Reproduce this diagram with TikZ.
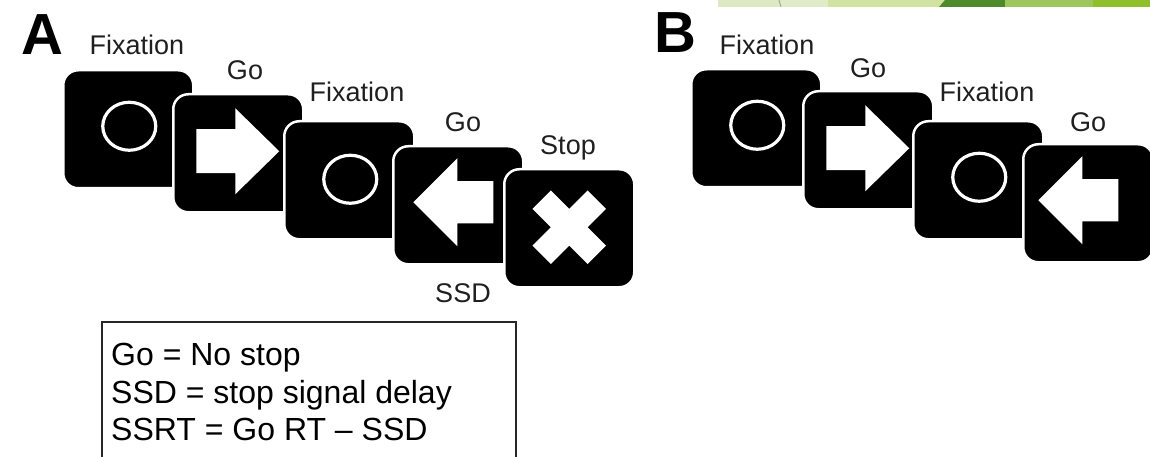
\documentclass[tikz,border=0pt]{standalone}
\usepackage{fontspec}
\setmainfont{Liberation Sans}
\begin{document}
\begin{tikzpicture}[x=1pt, y=-1pt,
  card/.style={rectangle, rounded corners=15pt, fill=black, draw=white,
    line width=2.5pt, minimum width=130pt, minimum height=118pt,
    inner sep=0pt, anchor=north west},
  lbl/.style={anchor=base, inner sep=0pt, text=black!88,
    font=\fontsize{27}{32}\selectfont},
  panel/.style={anchor=base west, inner sep=0pt,
    font=\fontsize{58}{64}\selectfont\bfseries},
  legendtext/.style={anchor=base west, inner sep=0pt,
    font=\fontsize{32}{38}\selectfont},
  ring/.style={draw=white, line width=3.2pt},
  glyph/.style={fill=white, draw=none},
  rarrow/.pic={\path[glyph] (-42,-22) -- (-3,-22) -- (-3,-43) -- (41,0)
      -- (-3,43) -- (-3,22) -- (-42,22) -- cycle;},
  larrow/.pic={\path[glyph] (-45,0) -- (-1,-44) -- (-1,-21) -- (35,-21)
      -- (35,21) -- (-1,21) -- (-1,44) -- cycle;},
  cross/.pic={\path[glyph, rotate=45] (-39,-13) rectangle (39,13);
      \path[glyph, rotate=-45] (-39,-13) rectangle (39,13);}
]
\useasboundingbox (0,0) rectangle (1150,457);

% decorative band along the top edge
\fill[fill={rgb,255:red,220;green,233;blue,194}] (718,0) rectangle (780,7);
\fill[fill={rgb,255:red,224;green,236;blue,200}] (780,0) rectangle (828,7);
\draw[draw={rgb,255:red,150;green,165;blue,135}, line width=0.8pt] (779,0) -- (781,7);
\fill[fill={rgb,255:red,209;green,227;blue,161}] (828,0) rectangle (946,7);
\fill[fill={rgb,255:red,79;green,138;blue,42}] (945,0) -- (1005,0) -- (1005,7) -- (939,7) -- cycle;
\fill[fill={rgb,255:red,157;green,199;blue,94}] (1005,0) rectangle (1093,7);
\fill[fill={rgb,255:red,143;green,192;blue,44}] (1093,0) rectangle (1150,7);

% ---------------- panel A ----------------
\node[panel] (A) at (21,55) {A};

\node[card] (a1) at (62,69) {};
\node[card] (a2) at (172,93) {};
\node[card] (a3) at (283,120) {};
\node[card] (a4) at (392,145) {};
\node[card] (a5) at (503,168) {};

\draw[ring] ([shift={(1,-3)}]a1.center) ellipse [x radius=26.5, y radius=24];
\pic at ([shift={(0,-2)}]a2.center) {rarrow};
\draw[ring] ([shift={(1,-1)}]a3.center) ellipse [x radius=26.5, y radius=24];
\pic at ([shift={(0,-3)}]a4.center) {larrow};
\pic at ([shift={(0,-1)}]a5.center) {cross};

\node[lbl] (fa1) at (137,55) {Fixation};
\node[lbl] (ga2) at (245,80) {Go};
\node[lbl] (fa3) at (357,102) {Fixation};
\node[lbl] (ga4) at (463,132) {Go};
\node[lbl] (sa5) at (568,155) {Stop};
\node[lbl] (ssd) at (463,302) {SSD};

% legend
\node[draw=black!85, line width=1.8pt, rectangle, anchor=north west,
  minimum width=414pt, minimum height=170pt, inner sep=0pt] (legend) at (101,321) {};
\node[legendtext] (l1) at (111,365) {Go = No stop};
\node[legendtext] (l2) at (111,403) {SSD = stop signal delay};
\node[legendtext] (l3) at (111,440) {SSRT = Go RT – SSD};

% ---------------- panel B ----------------
\node[panel] (B) at (654,53) {B};

\node[card] (b1) at (690,68) {};
\node[card] (b2) at (802,90) {};
\node[card] (b3) at (912,120) {};
\node[card] (b4) at (1022,143) {};

\draw[ring] ([shift={(1,-3)}]b1.center) ellipse [x radius=26.5, y radius=24];
\pic at ([shift={(0,-2)}]b2.center) {rarrow};
\draw[ring] ([shift={(1,-3)}]b3.center) ellipse [x radius=26.5, y radius=24];
\pic at ([shift={(-5,-3)}]b4.center) {larrow};

\node[lbl] (fb1) at (767,55) {Fixation};
\node[lbl] (gb2) at (868,78) {Go};
\node[lbl] (fb3) at (987,102) {Fixation};
\node[lbl] (gb4) at (1088,132) {Go};
\end{tikzpicture}
\end{document}
